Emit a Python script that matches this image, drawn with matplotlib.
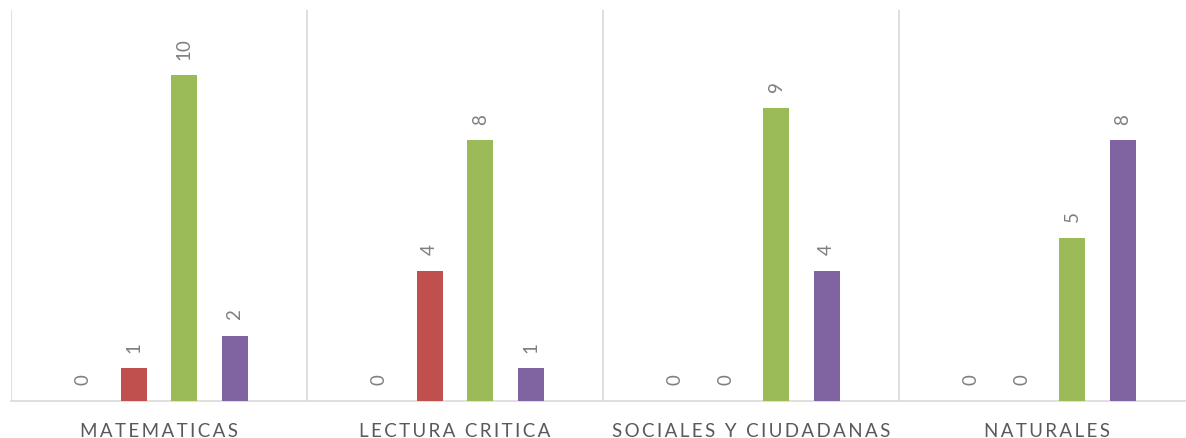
import numpy as np
import matplotlib.pyplot as plt

# data
categories = ["MATEMATICAS", "LECTURA CRITICA", "SOCIALES Y CIUDADANAS", "NATURALES"]
serie_1 = [0, 0, 0, 0]
serie_2 = [1, 4, 0, 0]
serie_3 = [10, 8, 9, 5]
serie_4 = [2, 1, 4, 8]
series = [serie_1, serie_2, serie_3, serie_4]
colors = ["#4F81BD", "#C0504D", "#9BBB59", "#8064A2"]

fig = plt.figure(figsize=(11.86, 4.39), dpi=100)
ax = fig.add_axes([11 / 1186, 37 / 439, 1184 / 1186, 391 / 439])

x = np.arange(len(categories))
step = 0.1706
width = 0.0895

for i, (vals, col) in enumerate(zip(series, colors)):
    pos = x + (i - 1.5) * step
    bars = ax.bar(pos, vals, width=width, color=col, zorder=3)
    for xp, v in zip(pos, vals):
        ax.annotate(str(v), (xp, v), xytext=(0, 12), textcoords="offset points",
                    rotation=90, ha="center", va="bottom", color="#7F7F7F",
                    fontsize=13.5, family=["Lato", "DejaVu Sans"])

ax.set_xlim(-0.5, 3.5)
ax.set_ylim(0, 12)

# category separators
ax.set_xticks(np.arange(-0.5, 4.0, 1.0), minor=True)
ax.grid(True, which="minor", axis="x", color="#D9D9D9", linewidth=1.2, zorder=0)
ax.tick_params(axis="x", which="both", length=0)
ax.set_xticks(x)
spaced = ["\u2009".join(list(c)) for c in categories]
ax.set_xticklabels(spaced, color="#595959", fontsize=13.5, family=["Lato", "DejaVu Sans"])
ax.tick_params(axis="x", pad=15)
ax.set_yticks([])

for s in ["top", "right", "left"]:
    ax.spines[s].set_visible(False)
ax.spines["bottom"].set_color("#D9D9D9")
ax.spines["bottom"].set_linewidth(1.2)

fig.savefig("out.png", dpi=100)
